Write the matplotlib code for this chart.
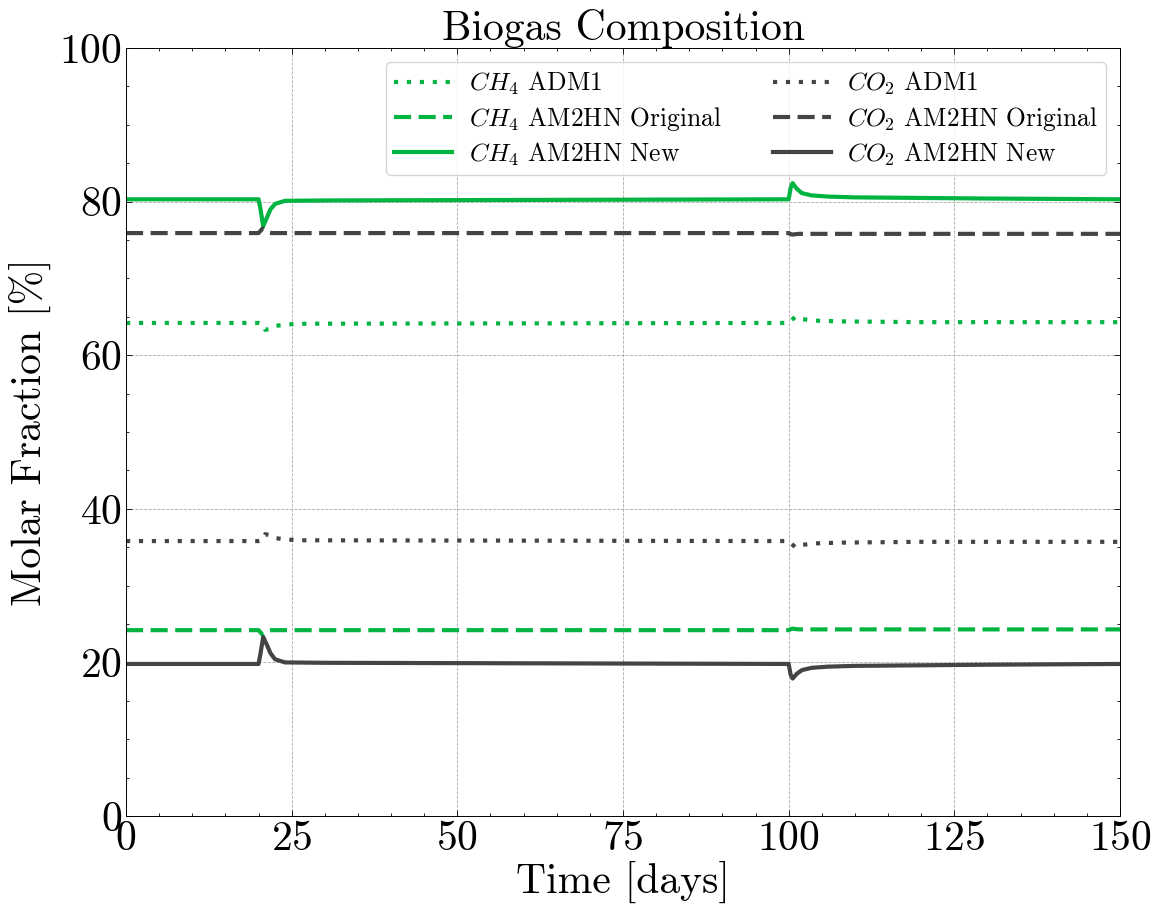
import matplotlib
matplotlib.use("Agg")
import matplotlib.pyplot as plt
from matplotlib.ticker import MultipleLocator

plt.rcParams['font.family'] = 'serif'
plt.rcParams['font.serif'] = ['cmr10']
plt.rcParams['mathtext.fontset'] = 'cm'
plt.rcParams['axes.formatter.use_mathtext'] = True

green = '#00b441'
grey = '#444444'

# CH4 - ADM1
t_ch4_adm1 = [0, 20, 20.5, 21, 21.5, 22.5, 24, 27, 100, 100.5, 101, 102, 104, 108, 120, 150]
ch4_adm1 = [64.2, 64.2, 64.1, 63.3, 63.4, 63.8, 64.0, 64.1, 64.2, 64.6, 65.0, 64.7, 64.5, 64.4, 64.3, 64.3]

# CO2 - ADM1
t_co2_adm1 = [0, 20, 20.5, 21, 21.5, 22.5, 24, 27, 100, 100.5, 101, 102, 104, 108, 120, 150]
co2_adm1 = [35.8, 35.8, 35.9, 36.7, 36.6, 36.2, 36.0, 35.9, 35.8, 35.4, 35.0, 35.3, 35.5, 35.6, 35.7, 35.7]

# CH4 - AM2HN original
t_ch4_orig = [0, 20, 20.6, 21.3, 22, 100, 100.5, 101.5, 150]
ch4_orig = [24.2, 24.2, 23.6, 24.1, 24.2, 24.2, 24.4, 24.3, 24.3]

# CO2 - AM2HN original
t_co2_orig = [0, 20, 20.6, 21.3, 22, 100, 100.5, 101.5, 150]
co2_orig = [75.9, 75.9, 76.5, 76.0, 75.9, 75.9, 75.7, 75.8, 75.8]

# CH4 - AM2HN new
t_ch4_new = [0, 20, 20.3, 20.7, 21.2, 21.8, 22.5, 24, 30, 100, 100.3, 100.6, 101.2, 102, 103.5, 106, 110, 130, 150]
ch4_new = [80.3, 80.3, 79.0, 76.8, 77.8, 79.0, 79.7, 80.1, 80.15, 80.3, 81.8, 82.4, 81.7, 81.1, 80.8, 80.65, 80.55, 80.4, 80.3]

# CO2 - AM2HN new
t_co2_new = [0, 20, 20.3, 20.7, 21.2, 21.8, 22.5, 24, 30, 100, 100.3, 100.6, 101.2, 102, 103.5, 106, 110, 130, 150]
co2_new = [19.8, 19.8, 21.2, 23.3, 22.4, 21.2, 20.4, 20.0, 19.95, 19.8, 18.4, 17.9, 18.5, 19.0, 19.3, 19.45, 19.55, 19.7, 19.8]

fig = plt.figure(figsize=(11.52, 9.14), dpi=100)
ax = fig.add_axes([0.1094, 0.1072, 0.8628, 0.8403])

lw = 3.0
dots = (0, (1, 2.1))
dashes = (0, (4.1, 1.8))
ax.plot(t_ch4_adm1, ch4_adm1, color=green, lw=lw, linestyle=dots, label=r'$CH_4$ ADM1')
ax.plot(t_ch4_orig, ch4_orig, color=green, lw=lw, linestyle=dashes, label=r'$CH_4$ AM2HN Original')
ax.plot(t_ch4_new, ch4_new, color=green, lw=lw, label=r'$CH_4$ AM2HN New')
ax.plot(t_co2_adm1, co2_adm1, color=grey, lw=lw, linestyle=dots, label=r'$CO_2$ ADM1')
ax.plot(t_co2_orig, co2_orig, color=grey, lw=lw, linestyle=dashes, label=r'$CO_2$ AM2HN Original')
ax.plot(t_co2_new, co2_new, color=grey, lw=lw, label=r'$CO_2$ AM2HN New')

ax.set_xlim(0, 150)
ax.set_ylim(0, 100)
ax.xaxis.set_major_locator(MultipleLocator(25))
ax.xaxis.set_minor_locator(MultipleLocator(5))
ax.yaxis.set_major_locator(MultipleLocator(20))
ax.yaxis.set_minor_locator(MultipleLocator(5))
ax.tick_params(which='both', direction='in', top=True, right=True, labelsize=30, pad=3)
ax.tick_params(which='major', length=4, width=0.6)
ax.tick_params(which='minor', length=2, width=0.6)
for s in ax.spines.values():
    s.set_linewidth(0.7)
ax.grid(True, which='major', linestyle='--', linewidth=0.6, color='#aaaaaa')

ax.set_xlabel('Time [days]', fontsize=30, labelpad=2)
ax.set_ylabel('Molar Fraction [%]', fontsize=30, labelpad=6)
ax.set_title('Biogas Composition', fontsize=30, pad=6)

ax.legend(ncol=2, loc='upper right', fontsize=18.4, handlelength=2.27, handletextpad=0.65,
          borderpad=0.3, borderaxespad=0.55, columnspacing=2.0, labelspacing=0.3,
          framealpha=0.8)

fig.savefig('out.png', dpi=100)
